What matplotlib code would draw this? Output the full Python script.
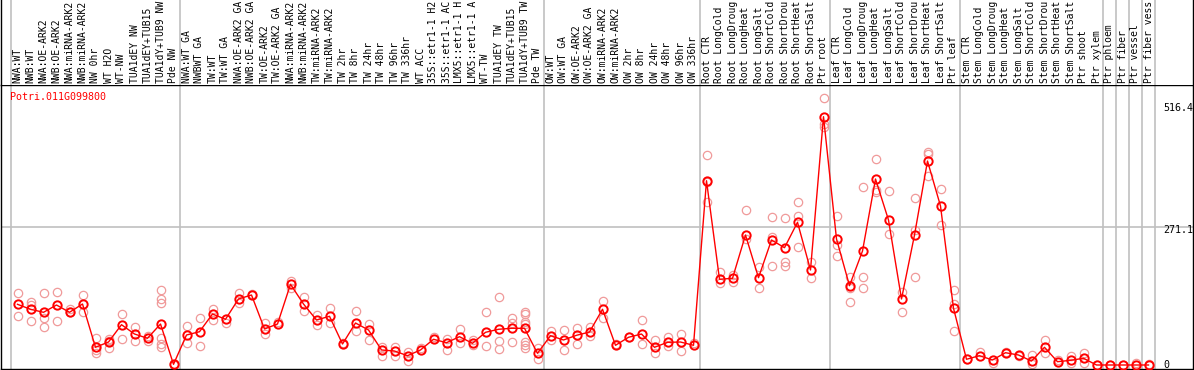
import numpy as np
import matplotlib
matplotlib.use("Agg")
import matplotlib.pyplot as plt

gene = "Potri.011G099800"

# header labels as printed (the chart cuts them at 14 characters)
labels = [
    "NWA:WT", "NWB:WT", "NWA:OE-ARK2", "NWB:OE-ARK2", "NWA:miRNA-ARK2", "NWB:miRNA-ARK2",
    "NW 0hr", "WT H2O", "WT-NW", "TUA1dEY NW", "TUA1dEY+TUB15", "TUA1dY+TUB9 NW", "Pde NW",
    "NWA:WT GA", "NWBWT GA", "TW:WT", "TW:WT GA", "NWA:OE-ARK2 GA", "NWB:OE-ARK2 GA",
    "TW:OE-ARK2", "TW:OE-ARK2 GA", "NWA:miRNA-ARK2", "NWB:miRNA-ARK2", "TW:miRNA-ARK2",
    "TW:miRNA-ARK2", "TW 2hr", "TW 8hr", "TW 24hr", "TW 48hr", "TW 96hr", "TW 336hr", "WT ACC",
    "35S::etr1-1 H2", "35S::etr1-1 AC", "LMX5::etr1-1 H", "LMX5::etr1-1 A", "WT-TW",
    "TUA1dEY TW", "TUA1dEY+TUB15", "TUA1dY+TUB9 TW", "Pde TW",
    "OW:WT", "OW:WT GA", "OW:OE-ARK2", "OW:OE-ARK2 GA", "OW:miRNA-ARK2", "OW:miRNA-ARK2",
    "OW 2hr", "OW 8hr", "OW 24hr", "OW 48hr", "OW 96hr", "OW 336hr",
    "Root CTR", "Root LongCold", "Root LongDroug", "Root LongHeat", "Root LongSalt",
    "Root ShortCold", "Root ShortDrou", "Root ShortHeat", "Root ShortSalt", "Ptr root",
    "Leaf CTR", "Leaf LongCold", "Leaf LongDroug", "Leaf LongHeat", "Leaf LongSalt",
    "Leaf ShortCold", "Leaf ShortDrou", "Leaf ShortHeat", "Leaf ShortSalt", "Ptr leaf",
    "Stem CTR", "Stem LongCold", "Stem LongDroug", "Stem LongHeat", "Stem LongSalt",
    "Stem ShortCold", "Stem ShortDrou", "Stem ShortHeat", "Stem ShortSalt", "Ptr shoot",
    "Ptr xylem", "Ptr phloem", "Ptr fiber", "Ptr vessel", "Ptr fiber vess",
]

group_sizes = [13, 28, 12, 10, 10, 11, 1, 1, 1, 1]

means = [
    122.0, 112.0, 105.9, 120.6, 105.9, 122.6, 35.6, 46.2, 81.0, 62.3, 53.7, 82.4, 1.4,
    60.3, 66.9, 102.5, 91.9, 132.7, 140.7, 72.4, 82.4, 162.2, 122.6, 90.5, 97.9, 42.2,
    84.4, 70.4, 30.2, 28.1, 18.7, 30.2, 51.7, 44.8, 56.9, 43.6, 65.7, 71.8, 73.8, 73.8, 23.5,
    58.9, 50.3, 59.7, 66.3, 112.0, 39.6, 55.7, 62.3, 35.6, 45.6, 46.2, 39.6,
    370.4, 172.3, 174.3, 261.3, 175.5, 251.3, 235.8, 286.8, 191.0, 499.1,
    253.3, 159.4, 229.1, 373.9, 291.5, 132.7, 261.3, 410.0, 319.6, 114.0,
    11.5, 18.7, 10.1, 24.7, 20.1, 8.0, 35.6, 6.6, 9.4, 13.5, 0.0,
    0.0, 0.0, 0.0, 0.0,
]

reps = [
    [145.3, 98.5], [127.2, 120.0, 88.4], [145.3, 95.1, 75.8], [147.3, 89.0], [112.6, 105.9],
    [140.1, 107.1], [53.7, 30.2, 23.5], [52.3, 48.8, 33.6], [101.9, 52.9], [75.8, 48.2],
    [58.3, 48.8], [150.1, 132.1, 125.2, 53.7, 42.2, 36.8], [0.0],
    [79.0, 43.6], [93.9, 37.6], [113.2, 90.5], [85.0], [144.1, 125.2], [142.1],
    [83.8, 61.7], [87.0], [168.8, 155.4], [137.3, 109.1], [100.5, 80.4], [115.2, 83.8],
    [43.6], [108.5, 68.9], [82.4, 50.3], [35.6, 18.7], [36.8, 18.7], [26.7, 8.6], [34.2],
    [56.9], [52.3, 29.5], [71.8, 44.8], [50.3, 40.8], [105.9, 38.2], [136.1, 48.2, 31.6],
    [95.1, 85.0, 46.8], [106.5, 101.9, 87.0, 81.8, 46.8, 40.2, 33.6], [34.8, 11.5],
    [68.3, 50.3], [70.4, 30.2], [75.0, 42.8], [75.8, 58.3], [128.0, 93.9], [42.2], [56.9],
    [89.8, 42.2], [50.3, 23.5], [56.9, 38.8], [62.3, 28.1], [43.6],
    [422.1, 368.4, 327.0], [186.3, 164.2], [180.9, 167.4], [311.6, 253.3], [197.6, 154.2],
    [296.9, 257.9, 199.0], [294.9, 207.6, 199.0], [327.0, 299.5, 236.6], [207.6, 174.3],
    [536.1, 483.8, 477.8],
    [299.5, 241.2, 219.1], [176.3, 154.2, 127.2], [357.2, 176.3, 154.2], [414.1, 351.8, 348.3],
    [349.7, 263.3], [147.3, 105.9], [335.1, 271.4, 176.3], [428.7, 424.1, 379.9],
    [353.2, 281.4], [150.8, 122.6, 68.3],
    [11.5], [25.5], [4.6], [26.7], [18.1], [20.1, 1.4], [50.3, 23.5], [10.1], [18.1, 4.6],
    [23.5, 3.4], [0.0],
    [0.0], [0.0], [4.6], [1.4],
]

y_ticks = [516.4, 271.1, 0]

W, H = 1194, 370
fig = plt.figure(figsize=(W / 100, H / 100), dpi=100)
ax = fig.add_axes([1 / W, 1 / H, 1192 / W, 284 / H])
hdr = fig.add_axes([1 / W, 285 / H, 1192 / W, 85 / H])

# pixel layout of the columns
col_w = 13
first_px = 11
xlim = (-0.5 - (first_px - 1) / col_w, -0.5 + (1193 - first_px) / col_w)
ylim = (-8.04, 562.8)

mono = "DejaVu Sans Mono"
fs = 7.0

x = np.arange(len(means))
rx = np.concatenate([[i] * len(r) for i, r in enumerate(reps)])
ry = np.concatenate(reps)

bounds = np.cumsum([0] + group_sizes) - 0.5
for a in (ax, hdr):
    a.set_xlim(*xlim)
    for b in bounds:
        a.axvline(b, color="#c0c0c0", lw=1.2, zorder=0)
    a.set_xticks([])
    a.set_yticks([])

ax.set_ylim(*ylim)
ax.axhline(sum(ylim) / 2, color="#c0c0c0", lw=1.2, zorder=0)
ax.plot(rx, ry, "o", ls="none", ms=6, mfc="none", mec="#f09a9a", mew=0.9, zorder=2)
ax.plot(x, means, "-o", color="red", lw=1.0, ms=6, mfc="none", mew=1.4, zorder=3)
for sp in ax.spines.values():
    sp.set_color("black")
    sp.set_linewidth(1.0)

ax.text(9 / 1192, 1 - 12 / 284, gene, transform=ax.transAxes, color="red",
        family=mono, fontsize=7.2, ha="left", va="center")
for v in y_ticks:
    ax.text(1162 / 1192, v, str(v), transform=ax.get_yaxis_transform(),
            family=mono, fontsize=7.2, ha="left", va="center")

hdr.set_ylim(0, 1)
hdr.spines["top"].set_visible(False)
hdr.spines["bottom"].set_visible(False)
for s in ("left", "right"):
    hdr.spines[s].set_color("black")
    hdr.spines[s].set_linewidth(1.0)
for i, lab in enumerate(labels):
    hdr.text(i, 0.02, lab, rotation=90, ha="center", va="bottom",
             family=mono, fontsize=fs)

fig.savefig("out.png", dpi=100)
